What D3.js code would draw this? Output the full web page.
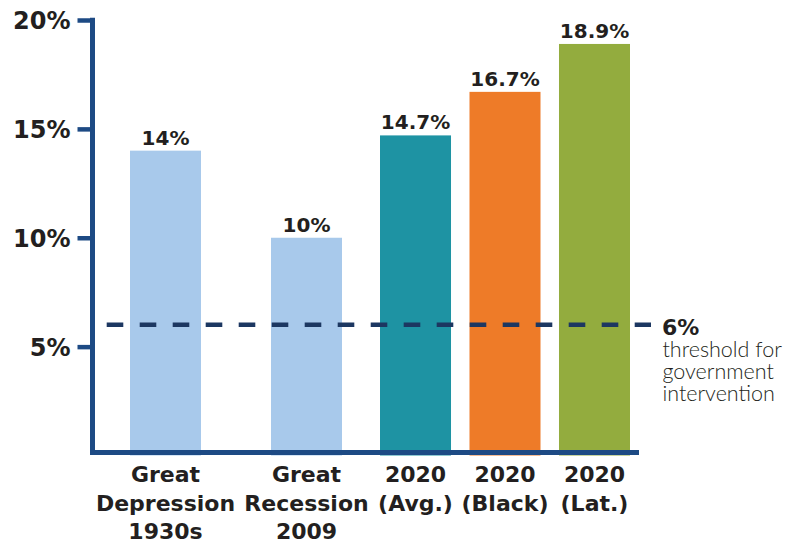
<!DOCTYPE html>
<html>
<head>
<meta charset="utf-8">
<script src="https://cdn.jsdelivr.net/npm/d3@7"></script>
<style>
  body { margin: 0; background: #fff; }
  svg { display: block; }
</style>
</head>
<body>
<script>
// data
const categories = ['Great Depression 1930s', 'Great Recession 2009', '2020 (Avg.)', '2020 (Black)', '2020 (Lat.)'];
const categoryLines = [
  ['Great', 'Depression', '1930s'],
  ['Great', 'Recession', '2009'],
  ['2020', '(Avg.)'],
  ['2020', '(Black)'],
  ['2020', '(Lat.)'],
];
const groups = ['past', 'past', '2020', '2020', '2020'];
const values = [14, 10, 14.7, 16.7, 18.9];
const valueLabels = ['14%', '10%', '14.7%', '16.7%', '18.9%'];
const yTicks = [5, 10, 15, 20];
const threshold = 6;
const thresholdLines = ['threshold for', 'government', 'intervention'];

// config
const config = {
  width: 787,
  height: 542,
  axisX: 92.5,
  baseY: 452.5,
  y0: 455.5, // where 0% would sit
  y20: 20,
  pastRange: [95, 377],
  nowRange: [370, 640],
  barWidth: 71,
  catTop: 482, // baseline of first category line
  catLineHeight: 28.5,
  axisColor: '#1d4a84',
  dashColor: '#1c3761',
  textColor: '#231f20',
  boldFont: '"DejaVu Sans", sans-serif',
  lightFont: 'Lato, sans-serif',
  barColors: ['#a8c9eb', '#a8c9eb', '#1e93a3', '#ee7b28', '#93ac3e'],
};

const svg = d3.select('body')
  .append('svg')
  .attr('width', config.width)
  .attr('height', config.height);

const y = d3.scaleLinear()
  .domain([0, 20])
  .range([config.y0, config.y20]);

// two band scales, one for the historical bars, one for the 2020 bars (they are packed tighter)
const xPast = d3.scaleBand()
  .domain(categories.filter((c, i) => groups[i] === 'past'))
  .range(config.pastRange)
  .paddingInner(0.496)
  .paddingOuter(0.248);

const xNow = d3.scaleBand()
  .domain(categories.filter((c, i) => groups[i] === '2020'))
  .range(config.nowRange)
  .paddingInner(0.207)
  .paddingOuter(0.112);

function xCenter(i) {
  const scale = groups[i] === 'past' ? xPast : xNow;
  return scale(categories[i]) + scale.bandwidth() / 2;
}

const rows = categories.map((c, i) => ({ name: c, value: values[i], label: valueLabels[i], lines: categoryLines[i], i: i }));

// bars
svg.append('g')
  .selectAll('rect')
  .data(rows)
  .enter().append('rect')
  .attr('x', (d) => xCenter(d.i) - config.barWidth / 2)
  .attr('width', config.barWidth)
  .attr('y', (d) => y(d.value))
  .attr('height', (d) => y(0) - y(d.value))
  .style('fill', (d) => config.barColors[d.i]);

// value labels above bars
svg.append('g')
  .selectAll('text')
  .data(rows)
  .enter().append('text')
  .attr('x', (d) => xCenter(d.i))
  .attr('y', (d) => y(d.value) - 6)
  .attr('text-anchor', 'middle')
  .style('font-family', config.boldFont)
  .style('font-weight', 'bold')
  .style('font-size', '20px')
  .style('fill', config.textColor)
  .text((d) => d.label);

// category labels under the axis
const catLabel = svg.append('g')
  .selectAll('text')
  .data(rows)
  .enter().append('text')
  .attr('text-anchor', 'middle')
  .style('font-family', config.boldFont)
  .style('font-weight', 'bold')
  .style('font-size', '22px')
  .style('fill', config.textColor);

catLabel.selectAll('tspan')
  .data((d) => d.lines.map((l) => ({ text: l, x: xCenter(d.i) })))
  .enter().append('tspan')
  .attr('x', (d) => d.x)
  .attr('y', (d, j) => config.catTop + j * config.catLineHeight)
  .text((d) => d.text);

// threshold dashed line
svg.append('line')
  .attr('x1', config.axisX + 2.5)
  .attr('x2', 651)
  .attr('y1', y(threshold))
  .attr('y2', y(threshold))
  .style('stroke', config.dashColor)
  .style('stroke-width', 4.5)
  .style('stroke-dasharray', '16.6,16.4')
  .style('stroke-dashoffset', 21.3);

svg.append('text')
  .attr('x', 662)
  .attr('y', y(threshold) + 10.5)
  .style('font-family', config.boldFont)
  .style('font-weight', 'bold')
  .style('font-size', '22px')
  .style('fill', config.textColor)
  .text(threshold + '%');

svg.append('text')
  .selectAll('tspan')
  .data(thresholdLines)
  .enter().append('tspan')
  .attr('x', 662.5)
  .attr('y', (d, j) => y(threshold) + 32.5 + j * 22)
  .style('font-family', config.lightFont)
  .style('font-weight', 300)
  .style('font-size', '21.5px')
  .style('fill', config.textColor)
  .text((d) => d);

// y axis
const yAxis = svg.append('g')
  .attr('transform', 'translate(' + config.axisX + ',0)')
  .call(d3.axisLeft(y)
    .tickValues(yTicks)
    .tickSize(15)
    .tickPadding(7)
    .tickFormat((d) => d + '%'));

yAxis.select('.domain').remove();
yAxis.selectAll('.tick line')
  .style('stroke', config.axisColor)
  .style('stroke-width', 4.5);
yAxis.selectAll('.tick text')
  .attr('dy', '0.36em')
  .style('font-family', config.boldFont)
  .style('font-weight', 'bold')
  .style('font-size', '24px')
  .style('fill', config.textColor);

// axis lines drawn by hand, thick and square-cornered
svg.append('path')
  .attr('d', 'M' + config.axisX + ',' + (y(20) - 2.25) + 'V' + config.baseY + 'H639')
  .style('fill', 'none')
  .style('stroke', config.axisColor)
  .style('stroke-width', 5)
  .style('stroke-linejoin', 'miter');
</script>
</body>
</html>
